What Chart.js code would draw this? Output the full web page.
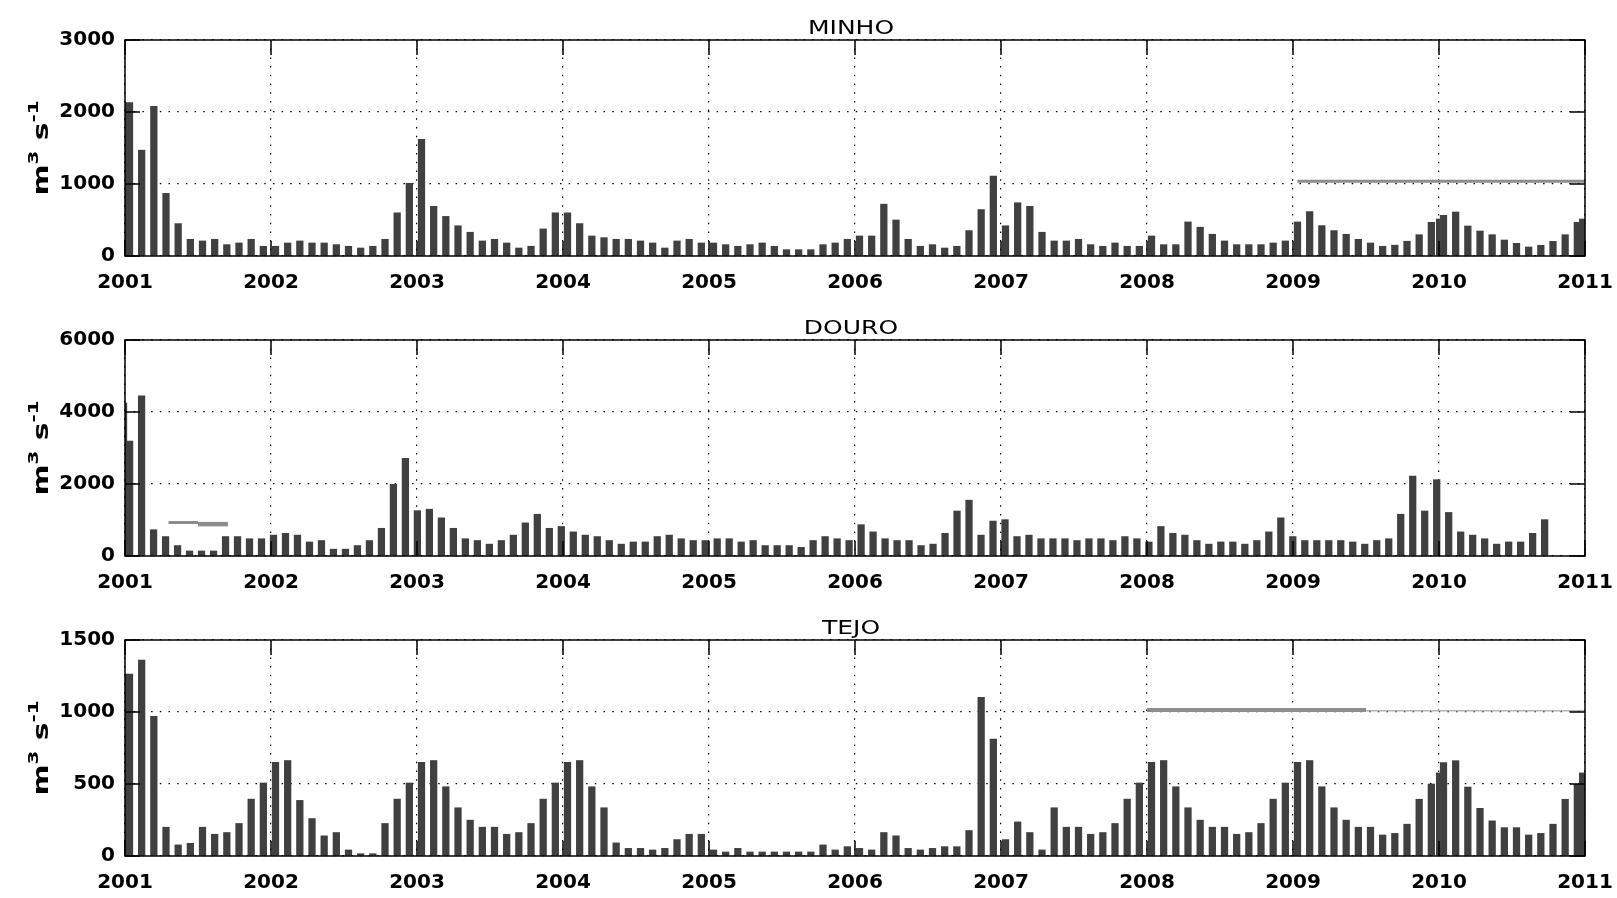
<!DOCTYPE html>
<html>
<head>
<meta charset="utf-8">
<title>Caudal mensal - Minho, Douro, Tejo</title>
<script src="https://cdn.jsdelivr.net/npm/chart.js@4.4.1/dist/chart.umd.min.js"></script>
<style>
  html, body { margin: 0; padding: 0; background: #fff; }
  body { width: 1617px; height: 898px; position: relative; overflow: hidden; }
  .panel { position: absolute; left: 0; width: 1617px; }
</style>
</head>
<body>
<div class="panel" style="top:0;height:300px"><canvas id="minho"></canvas></div>
<div class="panel" style="top:300px;height:300px"><canvas id="douro"></canvas></div>
<div class="panel" style="top:600px;height:298px"><canvas id="tejo"></canvas></div>
<script>
// monthly river discharge (m3/s), Jan 2001 .. Dec 2010
const minhoFlow = [
  2130, 1470, 2080, 870, 450, 232, 209, 232, 158, 181, 232, 135,
  135, 181, 209, 181, 181, 158, 135, 111, 135, 232, 600, 1010,
  1620, 690, 550, 420, 330, 209, 232, 181, 111, 135, 376, 600,
  600, 450, 278, 255, 232, 232, 209, 181, 111, 209, 232, 181,
  181, 158, 135, 158, 181, 135, 88, 88, 88, 158, 181, 232,
  278, 278, 720, 500, 232, 135, 158, 111, 135, 353, 645, 1110,
  420, 740, 690, 330, 209, 209, 232, 158, 135, 181, 135, 135,
  278, 158, 158, 473, 400, 302, 209, 158, 158, 158, 181, 209,
  473, 617, 422, 353, 302, 232, 181, 135, 150, 205, 296, 468,
  565, 611, 417, 347, 296, 222, 176, 125, 148, 204, 296, 468
];
// extra records off the monthly grid: [decimal year, value]
const minhoExtra = [[2000.99, 2130], [2010.004, 514], [2010.984, 514]];
// reference mean: [from, to, value]
const minhoMean = [[2009.03, 2011, 1037]];

// Douro series is sampled every 30 days from 12 Jan 2001
const douroFlow = [
  3190, 4450, 730, 540, 290, 140, 140, 140, 540, 540, 480, 480,
  580, 630, 580, 390, 430, 190, 190, 290, 430, 770, 1990, 2710,
  1260, 1300, 1060, 770, 480, 430, 330, 430, 580, 920, 1160, 770,
  820, 670, 580, 540, 430, 330, 390, 390, 540, 580, 480, 430,
  430, 480, 480, 390, 430, 290, 290, 290, 240, 430, 540, 480,
  430, 870, 670, 480, 430, 430, 290, 330, 630, 1250, 1550, 580,
  970, 1010, 540, 580, 480, 480, 480, 430, 480, 480, 430, 540,
  480, 390, 820, 630, 580, 430, 330, 390, 390, 330, 430, 670,
  1060, 540, 430, 430, 430, 430, 390, 330, 430, 480, 1160, 2220,
  1250, 2120, 1210, 670, 580, 480, 330, 390, 390, 630, 1010
];
const douroExtra = [[2000.99, 4250]];
const douroMean = [[2001.298, 2001.5, 930], [2001.5, 2001.705, 885]];

const tejoFlow = [
  1263, 1360, 970, 200, 77, 88, 200, 151, 163, 226, 395, 507,
  651, 663, 386, 260, 140, 163, 42, 16, 16, 226, 395, 507,
  651, 663, 481, 335, 249, 200, 200, 151, 163, 226, 395, 507,
  651, 663, 481, 335, 91, 53, 53, 42, 53, 114, 151, 151,
  42, 28, 53, 28, 28, 28, 28, 28, 28, 77, 42, 65,
  53, 42, 163, 140, 53, 42, 53, 65, 65, 177, 1102, 812,
  114, 237, 163, 42, 335, 200, 200, 151, 163, 226, 395, 507,
  651, 663, 481, 335, 249, 200, 200, 151, 163, 226, 395, 507,
  651, 663, 481, 335, 249, 200, 200, 146, 157, 221, 394, 500,
  648, 662, 479, 331, 244, 197, 197, 146, 157, 221, 394, 498
];
const tejoExtra = [[2000.99, 1263], [2010.004, 577], [2010.984, 577]];
const tejoMean = [[2008.0, 2009.5, 1014], [2009.5, 2011, 1009]];

const yearRange = [2001, 2011];

// bar positions in decimal years
const monthDates = minhoFlow.map((_, m) => 2001 + (m + 0.37) / 12);
const douroDates = douroFlow.map((_, k) => 2001 + (11.5 + 30 * k) / 365.25);

const TICK_FONT = "'DejaVu Sans', sans-serif";

// MATLAB-style box with inward ticks on all four sides
const boxTicks = {
  id: 'boxTicks',
  afterDatasetsDraw(chart) {
    const { ctx, chartArea: a, scales: { x, y } } = chart;
    const len = 15;
    ctx.save();
    ctx.strokeStyle = '#000';
    ctx.lineWidth = 1.5;
    ctx.beginPath();
    x.ticks.forEach(t => {
      const px = x.getPixelForValue(t.value);
      ctx.moveTo(px, a.top); ctx.lineTo(px, a.top + len);
      ctx.moveTo(px, a.bottom); ctx.lineTo(px, a.bottom - len);
    });
    y.ticks.forEach(t => {
      const py = y.getPixelForValue(t.value);
      ctx.moveTo(a.left, py); ctx.lineTo(a.left + len, py);
      ctx.moveTo(a.right, py); ctx.lineTo(a.right - len, py);
    });
    ctx.stroke();
    ctx.strokeRect(a.left, a.top, a.right - a.left, a.bottom - a.top);
    ctx.restore();
  }
};

// panel title and the m3 s-1 unit label, stretched like the old figure fonts
const panelText = {
  id: 'panelText',
  afterDraw(chart, args, opts) {
    const { ctx, chartArea: a } = chart;
    ctx.save();
    ctx.fillStyle = '#000';
    ctx.textBaseline = 'alphabetic';

    ctx.save();
    ctx.translate((a.left + a.right) / 2 - 4, a.top - 6);
    ctx.scale(1.25, 1);
    ctx.font = "20px 'DejaVu Sans', sans-serif";
    ctx.textAlign = 'center';
    ctx.fillText(opts.title, 0, 0);
    ctx.restore();

    // unit label, read bottom to top
    const big = "bold 21px 'DejaVu Sans', sans-serif";
    const small = "bold 14px 'DejaVu Sans', sans-serif";
    const parts = [['m', big, 0], ['3', small, 10], [' ', big, 0], ['s', big, 0], ['-1', small, 10]];
    const stretch = 1.42;
    let total = 0;
    parts.forEach(p => { ctx.font = p[1]; total += ctx.measureText(p[0]).width; });
    ctx.translate(48, (a.top + a.bottom) / 2);
    ctx.rotate(-Math.PI / 2);
    ctx.scale(stretch, 1);
    ctx.textAlign = 'left';
    let pos = -total / 2;
    parts.forEach(([txt, font, rise]) => {
      ctx.font = font;
      ctx.fillText(txt, pos, -rise);
      pos += ctx.measureText(txt).width;
    });
    ctx.restore();
  }
};

function drawPanel(id, name, dates, flow, extra, means, meanStyles, yMax, yStep, canvasH) {
  const bars = flow.map((v, i) => ({ x: dates[i], y: v }))
    .concat(extra.map(([x, y]) => ({ x, y })));

  const meanSets = means.map(([x0, x1, v], i) => ({
    type: 'line',
    data: [{ x: x0, y: v }, { x: x1, y: v }],
    borderColor: meanStyles[i].color,
    borderWidth: meanStyles[i].width,
    pointRadius: 0,
    clip: 0,
    order: 1
  }));

  new Chart(document.getElementById(id), {
    type: 'bar',
    data: {
      datasets: [{
        type: 'bar',
        data: bars,
        backgroundColor: '#404040',
        borderWidth: 0,
        barThickness: 6.6,
        clip: 0,
        order: 2
      }].concat(meanSets)
    },
    options: {
      responsive: true,
      maintainAspectRatio: false,
      animation: false,
      layout: { padding: { left: 0, right: 32, top: 40, bottom: 0 } },
      plugins: {
        legend: { display: false },
        tooltip: { enabled: false },
        panelText: { title: name }
      },
      scales: {
        x: {
          type: 'linear',
          min: yearRange[0],
          max: yearRange[1],
          offset: false,
          grid: { color: '#000', lineWidth: 1.2, drawTicks: false, offset: false },
          border: { display: false, dash: [1.5, 7.2] },
          ticks: {
            stepSize: 1,
            autoSkip: false,
            maxRotation: 0,
            padding: 15,
            color: '#000',
            font: { family: TICK_FONT, size: 20, weight: 'bold' },
            callback: v => String(v)
          },
          afterFit: s => {
            s.height = canvasH - 256;
            s.paddingLeft = 0;
            s.paddingRight = 0;
          }
        },
        y: {
          min: 0,
          max: yMax,
          grid: { color: '#000', lineWidth: 1.2, drawTicks: false },
          border: { display: false, dash: [1.5, 7.2] },
          ticks: {
            stepSize: yStep,
            padding: 10,
            color: '#000',
            font: { family: TICK_FONT, size: 20, weight: 'bold' },
            callback: v => String(v)
          },
          afterFit: s => {
            s.width = 125;
            s.paddingTop = 0;
            s.paddingBottom = 0;
          }
        }
      }
    },
    plugins: [boxTicks, panelText]
  });
}

const climStyle = { color: '#8c8c8c', width: 3 };
drawPanel('minho', 'MINHO', monthDates, minhoFlow, minhoExtra, minhoMean,
  [climStyle], 3000, 1000, 300);
drawPanel('douro', 'DOURO', douroDates, douroFlow, douroExtra, douroMean,
  [climStyle, { color: '#8c8c8c', width: 4.5 }], 6000, 2000, 300);
drawPanel('tejo', 'TEJO', monthDates, tejoFlow, tejoExtra, tejoMean,
  [{ color: '#8c8c8c', width: 4 }, { color: '#b4b4b4', width: 1.5 }], 1500, 500, 298);
</script>
</body>
</html>
